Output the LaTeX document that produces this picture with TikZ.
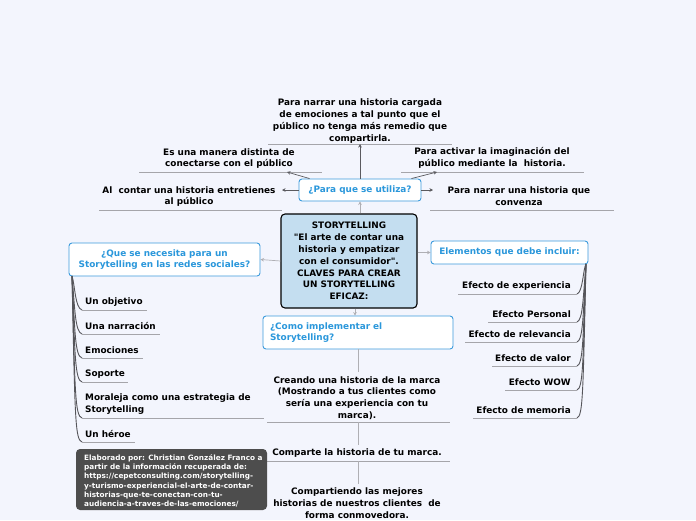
\documentclass[tikz,border=0pt]{standalone}
\usepackage{fontspec}
\setmainfont{DejaVu Sans}[Ligatures=TeXOff]
\usetikzlibrary{arrows.meta}
\definecolor{bgcol}{RGB}{243,245,253}
\definecolor{centralfill}{RGB}{196,222,240}
\definecolor{topicblue}{RGB}{60,155,220}
\definecolor{textblue}{RGB}{42,151,219}
\definecolor{linegray}{RGB}{165,165,170}
\definecolor{arrgray}{RGB}{90,90,95}
\definecolor{lightarr}{RGB}{175,175,180}
\definecolor{trunkgray}{RGB}{85,85,90}
\definecolor{notefill}{RGB}{77,77,77}
\begin{document}
\begin{tikzpicture}[x=1pt,y=-1pt,
  every node/.style={font=\bfseries\fontsize{8.9}{11.8}\selectfont, inner sep=0pt},
  topic/.style={draw=topicblue, fill=white, rounded corners=3pt, line width=0.9pt, text=textblue},
  centralbox/.style={draw=black, fill=centralfill, rounded corners=4pt, line width=1.1pt, align=center},
  txt/.style={align=center, text=black},
  ltxt/.style={align=left, text=black, anchor=west},
  rtxt/.style={align=right, text=black, anchor=east},
  ul/.style={draw=linegray, line width=0.8pt},
  arr/.style={draw=arrgray, line width=0.7pt, -{Stealth[length=3.5pt,width=3.5pt]}},
  larr/.style={draw=lightarr, line width=0.7pt, -{Stealth[length=3.5pt,width=3.5pt]}},
  plain/.style={draw=lightarr, line width=0.8pt},
  trunk/.style={draw=trunkgray, line width=0.9pt},
]
\fill[bgcol] (0,0) rectangle (696,520);
\useasboundingbox (0,0) rectangle (696,520);

% central
\node[centralbox, minimum width=136pt, minimum height=94pt] (central) at (349,261)
  {STORYTELLING\\"El arte de contar una\\historia y empatizar\\con el consumidor".\\CLAVES PARA CREAR\\UN STORYTELLING\\EFICAZ:};

% topics
\node[topic, minimum width=122pt, minimum height=22pt] (util) at (360,190) {¿Para que se utiliza?};
\node[topic, minimum width=191pt, minimum height=33pt, align=center] (que) at (164.5,259.5) {¿Que se necesita para un\\Storytelling en las redes sociales?};
\node[topic, minimum width=157pt, minimum height=23pt] (elem) at (509.5,252.5) {Elementos que debe incluir:};
\node[topic, minimum width=190pt, minimum height=33pt, text width=176pt, align=left] (como) at (358,332.5) {¿Como implementar el\\Storytelling?};

\draw[larr] (central.north -| util.south) -- (util.south);
\draw[larr] (central.west) -- (que.east);
\draw[larr] (central.east |- elem.west) -- (elem.west);
\draw[larr] (central.south -| 355,0) -- (como.north -| 355,0);

% utiliza children
\node[txt] (t1) at (360,121) {Para narrar una historia cargada\\de emociones a tal punto que el\\público no tenga más remedio que\\compartirla.};
\coordinate (t1a) at (268,144); \coordinate (t1b) at (452,144);
\draw[ul] (t1a) -- (t1b);
\draw[arr] (util.north) -- (util.north |- t1a);

\node[txt] (t2) at (229,158.5) {Es una manera distinta de\\conectarse con el público};
\coordinate (t2a) at (139,172); \coordinate (t2b) at (322,172);
\draw[ul] (t2a) -- (t2b);
\coordinate (t2tip) at (287,172);
\draw[arr] (util.north west) ++(11,0) coordinate (u2) (u2) -- (t2tip);

\node[txt] (t3) at (492,158) {Para activar la imaginación del\\público mediante la\ \ historia.};
\coordinate (t3a) at (401,172); \coordinate (t3b) at (584,172);
\draw[ul] (t3a) -- (t3b);
\coordinate (t3tip) at (437,172);
\draw[arr] (util.north east) ++(-10,0) coordinate (u3) (u3) -- (t3tip);

\node[txt] (t4) at (189,196.5) {Al\ \ contar una historia entretienes\\al público};
\coordinate (t4a) at (99,210); \coordinate (t4b) at (282,210);
\draw[ul] (t4a) -- (t4b);
\coordinate (t4tip) at (282,190);
\draw[arr] (util.west) -- (t4tip);

\node[txt] (t5) at (519,196.5) {Para narrar una historia que\\convenza};
\coordinate (t5a) at (430,210); \coordinate (t5b) at (614,210);
\draw[ul] (t5a) -- (t5b);
\coordinate (t5tip) at (433,190);
\draw[arr] (util.east) -- (t5tip);

% que children
\coordinate (qroot) at (72,276);
\foreach \nm/\txt/\ty/\uy/\ux in {
  q1/{Un objetivo}/302/310/147,
  q2/{Una narración}/326/334/160,
  q3/{Emociones}/350/358/143,
  q4/{Soporte}/374/382/128,
  q6/{Un héroe}/434/442/135}{
  \node[ltxt] (\nm) at (85,\ty) {\txt};
  \coordinate (\nm e) at (\ux,\uy);
  \coordinate (\nm s) at (82,\uy);
  \draw[trunk] (qroot) .. controls (75,\uy-25) and (75,\uy-2) .. (\nm s);
  \draw[ul] (\nm s) -- (\nm e);
}
\node[ltxt] (q5) at (85,404) {Moraleja como una estrategia de\\Storytelling};
\coordinate (q5e) at (264,418); \coordinate (q5s) at (82,418);
\draw[trunk] (qroot) .. controls (75,393) and (75,416) .. (q5s);
\draw[ul] (q5s) -- (q5e);

% elementos children
\coordinate (eroot) at (586,264);
\foreach \nm/\txt/\ty/\uy/\ux in {
  e1/{Efecto de experiencia}/286/294/458,
  e2/{Efecto Personal}/314/322/488,
  e3/{Efecto de relevancia}/334/342/465,
  e4/{Efecto de valor}/358/366/492,
  e5/{Efecto WOW}/382/390/505,
  e6/{Efecto de memoria}/410/418/473}{
  \node[rtxt] (\nm) at (571,\ty) {\txt};
  \coordinate (\nm s) at (\ux,\uy);
  \coordinate (\nm e) at (577,\uy);
  \draw[trunk] (eroot) .. controls (583,\uy-25) and (583,\uy-2) .. (\nm e);
  \draw[ul] (\nm e) -- (\nm s);
}

% como children
\node[txt] (c1) at (357,398) {Creando una historia de la marca\\(Mostrando a tus clientes como\\sería una experiencia con tu\\marca).};
\coordinate (c1top) at (358,372);
\coordinate (c1a) at (267,422); \coordinate (c1b) at (450,422);
\draw[plain] (como.south -| c1top) -- (c1top);
\draw[ul] (c1a) -- (c1b);

\node[txt] (c2) at (357,453) {Comparte la historia de tu marca.};
\coordinate (c2top) at (358,445);
\coordinate (c2a) at (267,461); \coordinate (c2b) at (450,461);
\draw[plain] (c1a -| c2top) -- (c2top);
\draw[ul] (c2a) -- (c2b);

\node[txt] (c3) at (357,503) {Compartiendo las mejores\\historias de nuestros clientes\ \ de\\forma conmovedora.};
\coordinate (c3top) at (358,484);
\draw[plain] (c2a -| c3top) -- (c3top);

% note
\node[fill=notefill, rounded corners=4pt, minimum width=191pt, minimum height=61pt] (note) at (171.5,479.5) {};
\node[anchor=west, align=left, text=white, font=\bfseries\fontsize{7.3}{9.2}\selectfont] (notetxt) at (84,481)
  {Elaborado por: Christian González Franco a\\partir de la información recuperada de:\\https://cepetconsulting.com/storytelling-\\y-turismo-experiencial-el-arte-de-contar-\\historias-que-te-conectan-con-tu-\\audiencia-a-traves-de-las-emociones/};
\end{tikzpicture}
\end{document}
